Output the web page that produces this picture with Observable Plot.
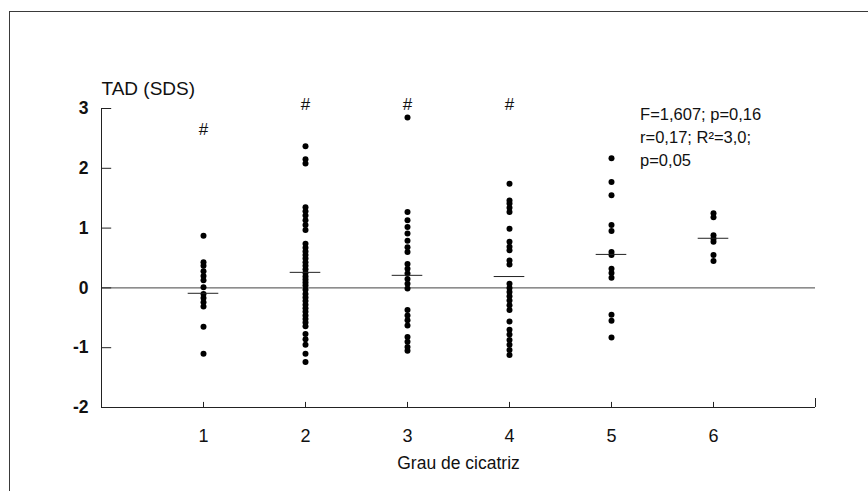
<!DOCTYPE html>
<html>
<head>
<meta charset="utf-8">
<script src="https://cdn.jsdelivr.net/npm/d3@7"></script>
<script src="https://cdn.jsdelivr.net/npm/@observablehq/plot@0.6"></script>
<style>
  body { margin: 0; background: #fff; }
  #quadro { position: absolute; left: 9px; top: 11px; width: 900px; height: 520px;
            border-left: 1px solid #3a3a3a; border-top: 1px solid #3a3a3a; }
  #grafico { position: absolute; left: 0; top: 0; }
</style>
</head>
<body>
<div id="quadro"></div>
<div id="grafico"></div>
<script>
// Grau de cicatriz (categorias do eixo x)
const graus = [1, 2, 3, 4, 5, 6];

// TAD (SDS) individual por grau de cicatriz
const tadGrau1 = [0.87, 0.43, 0.37, 0.28, 0.2, 0.13, 0.01, -0.1, -0.17, -0.24, -0.31, -0.65, -1.1];
const tadGrau2 = [2.37, 2.15, 2.08, 1.35, 1.28, 1.21, 1.13, 1.05, 0.97, 0.74, 0.67, 0.61, 0.55,
                  0.49, 0.43, 0.37, 0.31, 0.25, 0.19, 0.14, 0.09, 0.04, -0.03, -0.1, -0.16, -0.22,
                  -0.28, -0.34, -0.4, -0.46, -0.52, -0.58, -0.64, -0.77, -0.86, -0.95, -1.1, -1.24];
const tadGrau3 = [2.85, 1.27, 1.13, 1.02, 0.91, 0.79, 0.68, 0.6, 0.4, 0.32, 0.24, 0.15, 0.07,
                  -0.01, -0.37, -0.46, -0.54, -0.63, -0.82, -0.9, -0.99, -1.05];
const tadGrau4 = [1.74, 1.46, 1.41, 1.34, 1.27, 0.99, 0.77, 0.69, 0.63, 0.46, 0.39, 0.07, 0.0,
                  -0.07, -0.14, -0.21, -0.29, -0.37, -0.56, -0.7, -0.78, -0.87, -0.95, -1.04, -1.12];
const tadGrau5 = [2.17, 1.77, 1.55, 1.05, 0.95, 0.6, 0.55, 0.32, 0.25, 0.17, -0.45, -0.55, -0.83];
const tadGrau6 = [1.25, 1.18, 0.88, 0.82, 0.77, 0.55, 0.45];

// Média de cada grau
const medias = [-0.09, 0.26, 0.21, 0.19, 0.56, 0.83];

// Marcas "#" (diferença significativa) e sua altura
const grausMarcados = [1, 2, 3, 4];
const alturaMarca = [2.64, 3.07, 3.07, 3.07];

// Eixos
const ticksY = [-2, -1, 0, 1, 2, 3];
const rotuloY = "TAD (SDS)";
const rotuloX = "Grau de cicatriz";
const estatisticas = "F=1,607; p=0,16\nr=0,17; R²=3,0;\np=0,05";

const series = [tadGrau1, tadGrau2, tadGrau3, tadGrau4, tadGrau5, tadGrau6];
const pontos = series.flatMap((vals, i) => vals.map(v => ({grau: graus[i], tad: v})));
const linhasMedia = graus.map((g, i) => ({grau: g, media: medias[i]}));
const marcas = grausMarcados.map((g, i) => ({grau: g, y: alturaMarca[i]}));

const chart = Plot.plot({
  width: 868,
  height: 491,
  marginLeft: 101,
  marginRight: 53,
  marginTop: 108,
  marginBottom: 84,
  style: {
    fontFamily: "'Liberation Sans', Arial, sans-serif",
    fontSize: "16.5px",
    color: "#111",
    background: "transparent",
    overflow: "visible"
  },
  x: {domain: [0, 7], axis: null},
  y: {domain: [-2, 3], axis: null},
  marks: [
    // linha de referência em zero
    Plot.ruleY([0], {x1: 0, x2: 7, stroke: "#444", strokeWidth: 1}),
    // eixos
    Plot.ruleX([0], {y1: -2, y2: 3, stroke: "#222"}),
    Plot.ruleY([-2], {x1: 0, x2: 7, stroke: "#222"}),
    Plot.ruleY(ticksY, {x1: 0, x2: 0.1, stroke: "#222"}),
    Plot.ruleX(graus, {y1: -2, y2: -1.915, stroke: "#222"}),
    Plot.ruleX([7], {y1: -2, y2: -1.85, stroke: "#222"}),
    Plot.axisY(ticksY, {tickSize: 0, tickPadding: 13, tickFormat: d => String(d), fontWeight: "bold", fontSize: 17.5, label: null}),
    Plot.axisX(graus, {tickSize: 0, tickPadding: 22, tickFormat: d => String(d), fontSize: 18, label: null}),
    Plot.text([rotuloY], {x: 0, y: 3, dy: -20, text: d => d, textAnchor: "start", fontSize: 19}),
    Plot.text([rotuloX], {x: 3.5, y: -2, dy: 56, text: d => d, fontSize: 17.5}),
    // pontos individuais
    Plot.dot(pontos, {x: "grau", y: "tad", r: 3, fill: "#000", stroke: null}),
    // médias
    Plot.ruleY(linhasMedia, {y: "media", x1: d => d.grau - 0.15, x2: d => d.grau + 0.15, stroke: "#222"}),
    // marcas de significância
    Plot.text(marcas, {x: "grau", y: "y", text: () => "#", fontSize: 17}),
    // estatísticas
    Plot.text([estatisticas], {x: 5.28, y: 3.08, text: d => d, textAnchor: "start", lineAnchor: "top", lineHeight: 1.39})
  ]
});

document.getElementById("grafico").append(chart);
</script>
</body>
</html>
